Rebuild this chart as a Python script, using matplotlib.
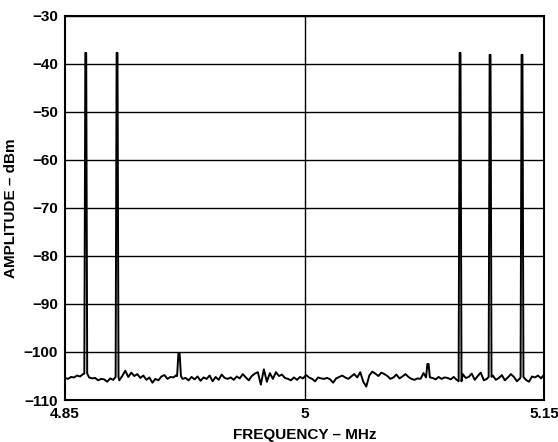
import numpy as np
import matplotlib.pyplot as plt

plt.rcParams['font.family'] = ['Liberation Sans', 'DejaVu Sans']
plt.rcParams['font.weight'] = 'bold'

# noise floor samples across the sweep (4.85 - 5.15 MHz)
noise_dbm = [
    -105.4, -105.6, -105.2, -105.3, -104.9, -105.1, -104.6, -104.5,
    -105.3, -105.5, -105.4, -105.9, -105.6, -105.7, -106.2, -105.5, -105.8, -105.2,
    -105.9, -105.0, -103.9, -105.2, -104.3, -105.0, -104.6, -105.4, -104.9, -105.8, -105.3, -106.4, -105.6,
    -105.9, -105.1, -104.8, -105.6, -105.2, -105.3, -104.8, -105.0,
    -105.6, -105.4, -105.9, -105.2, -105.7, -105.1, -106.0, -105.3, -105.6, -104.9, -106.1, -105.2, -105.8, -104.7, -105.4,
    -105.6, -105.3, -105.8, -105.1, -105.5, -104.6, -105.3, -105.9, -105.0, -104.5, -104.2, -106.8, -103.6, -106.2, -104.4, -105.6, -104.2,
    -105.0, -104.7, -105.4, -105.6, -105.9, -105.3, -105.8, -105.2, -105.5, -104.8, -105.3, -105.6, -106.1, -105.3,
    -105.5, -105.6, -105.4, -105.7, -106.4, -105.5, -105.2, -104.9, -105.3, -105.6, -105.1, -104.6, -105.3, -104.2, -106.2, -107.2, -104.9, -104.1, -104.5, -105.0, -104.3,
    -104.6, -105.0, -105.6, -105.3, -104.7, -105.5, -105.1, -104.6, -105.2, -105.6, -105.8, -105.5, -105.6, -104.4, -105.3, -105.6, -105.4, -105.7, -105.2, -105.6,
    -105.3, -105.4, -105.7, -105.2, -105.8, -106.1, -104.6, -105.4, -105.2, -104.5, -105.8, -105.0, -104.3, -105.9,
    -105.6, -105.2, -104.9, -105.8, -105.4, -104.8, -105.9, -105.3, -104.6, -105.2, -106.1, -105.5, -105.2, -105.8, -106.2, -105.1, -105.3, -104.9, -105.5, -104.7,
]

# carriers and spurs
tone_mhz = [4.8630, 4.8826, 5.0974, 5.1162, 5.1362]
tone_dbm = [-37.7, -37.7, -37.7, -38.1, -38.1]
spur_mhz = [4.9214, 5.0773]
spur_dbm = [-100.2, -102.5]

f_start, f_stop = 4.85, 5.15
yticks = [-30, -40, -50, -60, -70, -80, -90, -100, -110]
xticks = [4.85, 5.0, 5.15]
xticklabels = ['4.85', '5', '5.15']


def build_trace():
    freq = np.linspace(f_start, f_stop, len(noise_dbm))
    level = np.array(noise_dbm)
    keep = np.ones(len(freq), dtype=bool)
    peaks = [(f, l, 0.0009) for f, l in zip(tone_mhz, tone_dbm)]
    peaks += [(f, l, 0.0012) for f, l in zip(spur_mhz, spur_dbm)]
    extra_x, extra_y = [], []
    for f, l, hw in peaks:
        keep &= np.abs(freq - f) > hw
        base = level[np.argmin(np.abs(freq - f))]
        extra_x += [f - hw, f - hw * 0.3, f + hw * 0.3, f + hw]
        extra_y += [base, l, l, base]
    xs = np.concatenate([freq[keep], extra_x])
    ys = np.concatenate([level[keep], extra_y])
    order = np.argsort(xs, kind='stable')
    return xs[order], ys[order]


fig = plt.figure(figsize=(5.58, 4.42), dpi=100)
ax = fig.add_axes([0.1165, 0.095, 0.8585, 0.869])

x, y = build_trace()
ax.plot(x, y, color='black', lw=1.4, zorder=3)

for t in yticks:
    ax.axhline(t, color='black', lw=1.0, zorder=1)
ax.axvline(5.0, color='black', lw=1.0, zorder=1)

ax.set_xlim(f_start, f_stop)
ax.set_ylim(-110, -30)
ax.set_yticks(yticks)
ax.set_xticks(xticks)
ax.set_xticklabels(xticklabels)
ax.tick_params(length=0, labelsize=11)
ax.tick_params(axis='y', pad=5)
ax.tick_params(axis='x', pad=5)
for s in ax.spines.values():
    s.set_linewidth(1.5)
    s.set_zorder(4)

ax.set_xlabel('FREQUENCY – MHz', fontsize=11, fontweight='bold', labelpad=5)
ax.set_ylabel('AMPLITUDE – dBm', fontsize=11, fontweight='bold', labelpad=4)

fig.savefig('out.png', dpi=100)
